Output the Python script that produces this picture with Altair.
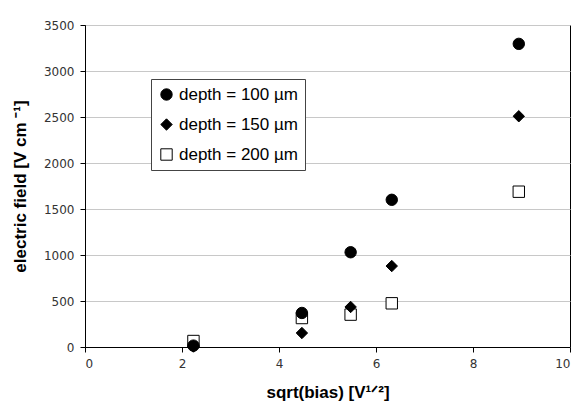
import altair as alt
import pandas as pd

x_vals = [2.236, 4.472, 5.477, 6.325, 8.944]
depth100 = [15, 370, 1030, 1600, 3295]
depth150 = [5, 152, 435, 880, 2508]
depth200 = [65, 315, 352, 475, 1688]
labels = ["depth = 100 µm", "depth = 150 µm", "depth = 200 µm"]
shapes = ["circle", "diamond", "square"]
fills = ["black", "black", "white"]
strokes = ["black", "black", "black"]

rows = []
# draw order: squares first, then diamonds, then circles on top
for lab, vals in [(labels[2], depth200), (labels[1], depth150), (labels[0], depth100)]:
    for x, v in zip(x_vals, vals):
        rows.append({"x": x, "field": v, "depth": lab})
df = pd.DataFrame(rows)

legend = alt.Legend(
    title=None, orient="none", legendX=66, legendY=54,
    fillColor="white", strokeColor="#444", padding=7,
    symbolSize=130, symbolStrokeWidth=1,
    labelFont="Liberation Sans", labelFontSize=17, labelColor="black",
    rowPadding=12, labelOffset=4, cornerRadius=0,
)

chart = alt.Chart(df).mark_point(
    filled=True, strokeWidth=1, opacity=1, size=130
).encode(
    x=alt.X("x:Q", scale=alt.Scale(domain=[0, 10], nice=False),
            axis=alt.Axis(values=[0, 2, 4, 6, 8, 10], grid=False,
                          title="sqrt(bias) [V¹ᐟ²]",
                          titleY=50, titleBaseline="alphabetic",
                          tickSize=5, labelPadding=6)),
    y=alt.Y("field:Q", scale=alt.Scale(domain=[0, 3500], nice=False),
            axis=alt.Axis(values=list(range(0, 3501, 500)), grid=True,
                          format="d",
                          title="electric field [V cm ⁻¹]",
                          titleX=-65, titleY=161, titleBaseline="middle",
                          tickSize=5, labelPadding=6)),
    shape=alt.Shape("depth:N", scale=alt.Scale(domain=labels, range=shapes), legend=legend),
    fill=alt.Fill("depth:N", scale=alt.Scale(domain=labels, range=fills), legend=legend),
    stroke=alt.Stroke("depth:N", scale=alt.Scale(domain=labels, range=strokes), legend=legend),
).properties(
    width=485, height=322,
    autosize=alt.AutoSizeParams(type="none"),
    padding={"left": 85, "top": 25, "right": 10, "bottom": 54},
).configure_view(
    stroke="black", strokeWidth=1
).configure_axis(
    domainColor="black", tickColor="black", gridColor="#c8c8c8",
    labelFont="DejaVu Sans", labelFontSize=12, labelColor="#333",
    titleFont="Liberation Sans", titleFontSize=17, titleFontWeight="bold",
    titleColor="black",
)

chart.save("out.html", embed_options={"renderer": "svg", "actions": False})
